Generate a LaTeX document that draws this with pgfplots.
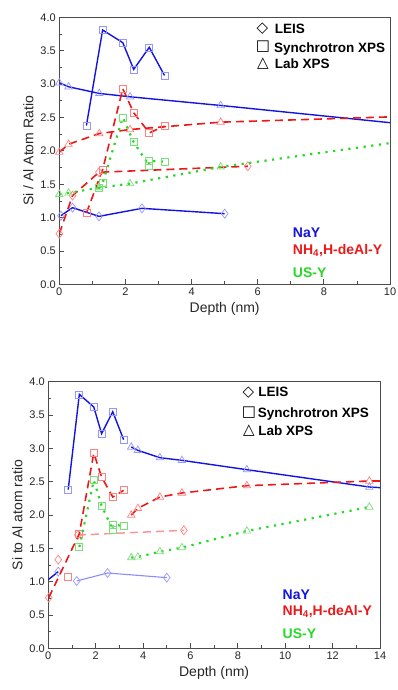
\documentclass[border=0pt]{standalone}
\usepackage{fontspec}
\setmainfont{Liberation Sans}
\newfontfamily\symf{DejaVu Sans}
\usepackage{pgfplots}
\pgfplotsset{compat=1.18}
\definecolor{cB}{RGB}{20,20,225}
\definecolor{cBm}{RGB}{150,150,255}
\definecolor{cBf}{RGB}{140,140,250}
\definecolor{cR}{RGB}{235,25,25}
\definecolor{cRm}{RGB}{255,130,130}
\definecolor{cRf}{RGB}{250,150,150}
\definecolor{cG}{RGB}{40,215,40}
\definecolor{cGm}{RGB}{120,225,120}
\pgfplotsset{
  base/.style={
    scale only axis, anchor=south west,
    ymin=0, ymax=4, ytick={0,0.5,1,1.5,2,2.5,3,3.5,4}, minor y tick num=1,
    minor x tick num=1,
    tick align=inside, xtick pos=left, ytick pos=left,
    major tick length=5pt, minor tick length=3pt,
    axis line style={black!70, line width=1pt},
    every tick/.style={black!70, line width=0.8pt},
    ticklabel style={font=\fontsize{11}{13}\selectfont, text=black!85},
    yticklabel style={/pgf/number format/fixed, /pgf/number format/fixed zerofill, /pgf/number format/precision=1},
    /pgf/number format/assume math mode=true,
    label style={font=\fontsize{14}{16}\selectfont, text=black!85},
    xlabel={Depth (nm)},
    clip mode=individual,
  },
  bl/.style={color=cB, solid, line width=1.4pt, mark options={draw=cBm, fill=white, solid, line width=0.7pt}},
  blf/.style={color=cBf, solid, line width=1.1pt, mark options={draw=cBm, fill=white, solid, line width=0.7pt}},
  rl/.style={color=cR, line width=1.6pt, dash pattern=on 8pt off 5pt, mark options={draw=cRm, fill=white, solid, line width=0.7pt}},
  rlf/.style={color=cRf, line width=1.5pt, dash pattern=on 8pt off 5pt, mark options={draw=cRm, fill=white, solid, line width=0.7pt}},
  gl/.style={color=cG, line width=2.2pt, dash pattern=on 2.2pt off 5.5pt, mark options={draw=cGm, fill=white, solid, line width=0.7pt}},
  mS/.style={mark=square, mark size=3.5pt},
  mD/.style={mark=diamond, mark size=4.5pt},
  mT/.style={mark=triangle, mark size=4.3pt},
}
\tikzset{lt/.style={anchor=base west, inner sep=0pt, font=\bfseries\fontsize{13.5}{16}\selectfont, text=black},
         ls/.style={anchor=center, inner sep=0pt, font=\symf\fontsize{15}{17}\selectfont, text=black},
         sl/.style={anchor=west, inner sep=0pt, font=\bfseries\fontsize{14}{16}\selectfont}}
\begin{document}
\begin{tikzpicture}
\useasboundingbox (0pt,0pt) rectangle (398pt,690pt);
% ---------------- top
\begin{axis}[base, at={(59.3pt,405.5pt)}, width=330.7pt, height=267.2pt,
  xmin=0, xmax=10, xtick={0,2,4,6,8,10},
  ylabel={Si / Al Atom Ratio}]
% NaY
\addplot[bl, mT, mark indices={1,2,3,4,5}] coordinates {(0,3.02)(0.28,2.96)(1.21,2.86)(2.14,2.81)(4.88,2.68)(10.05,2.42)};
\addplot[bl, mS] coordinates {(0.82,2.38)(1.31,3.81)(1.92,3.62)(2.25,3.22)(2.72,3.55)(3.18,3.13)};
\addplot[bl, mD] coordinates {(0.05,1.03)(0.4,1.15)(1.2,1.02)(2.5,1.14)(5.0,1.06)};
% NH4
\addplot[rl, mT, mark indices={1,2,3,4,5}] coordinates {(0,1.98)(0.28,2.10)(1.21,2.26)(2.14,2.32)(4.88,2.43)(10.05,2.51)};
\addplot[rl, mS] coordinates {(0.82,1.07)(1.31,1.72)(1.92,2.93)(2.25,2.57)(2.72,2.27)(3.18,2.37)};
\addplot[rl, mD] coordinates {(0,0.76)(0.4,1.33)(1.2,1.68)(5.7,1.77)};
% US-Y
\addplot[gl, mT, mark indices={1,2,3,4,5}] coordinates {(0,1.35)(0.28,1.37)(1.21,1.45)(2.14,1.51)(4.88,1.76)(10.05,2.12)};
\addplot[gl, mS] coordinates {(1.2,1.44)(1.31,1.52)(1.92,2.50)(2.25,2.13)(2.72,1.78)(2.72,1.85)(3.18,1.84)};
% legend
\node[ls] at (rel axis cs:0.614,0.957) {◇};
\node[ls] at (rel axis cs:0.616,0.889) {□};
\node[ls] at (rel axis cs:0.616,0.825) {△};
\node[lt] at (rel axis cs:0.651,0.940) {LEIS};
\node[lt] at (rel axis cs:0.649,0.869) {Synchrotron XPS};
\node[lt] at (rel axis cs:0.651,0.807) {Lab XPS};
\node[sl, text=cB] at (rel axis cs:0.706,0.194) {NaY};
\node[sl, text=cR] at (rel axis cs:0.706,0.126) {NH\textsubscript{4},H-deAl-Y};
\node[sl, text=cG] at (rel axis cs:0.706,0.044) {US-Y};
\end{axis}
% ---------------- bottom
\begin{axis}[base, at={(48.3pt,41.7pt)}, width=331.7pt, height=266.6pt,
  xmin=0, xmax=14, xtick={0,2,4,6,8,10,12,14},
  ylabel={Si to Al atom ratio}]
% NaY
\addplot[bl, mT, mark indices={1,2,3,4,5,6}] coordinates {(3.5,3.02)(3.78,2.97)(4.71,2.86)(5.64,2.82)(8.38,2.68)(13.55,2.42)(14.5,2.40)};
\addplot[bl, mS] coordinates {(0.84,2.38)(1.31,3.81)(1.92,3.62)(2.25,3.22)(2.72,3.55)(3.18,3.13)};
\addplot[blf, mD] coordinates {(1.2,1.01)(2.5,1.13)(5.0,1.06)};
\addplot[bl, mD, mark indices={2}] coordinates {(0,1.03)(0.42,1.15)};
% NH4
\addplot[rl, mT, mark indices={1,2,3,4,5,6}] coordinates {(3.5,2.0)(3.78,2.10)(4.71,2.27)(5.64,2.33)(8.38,2.44)(13.55,2.51)(14.5,2.51)};
\addplot[rlf, mD] coordinates {(1.25,1.70)(5.72,1.77)};
\addplot[rlf, mD, only marks] coordinates {(0.02,0.76)(0.42,1.33)};
\addplot[rlf, mS, only marks] coordinates {(0.84,1.07)};
\addplot[rl, mS, mark indices={2,3,4,5,6}] coordinates {(0.02,0.76)(1.31,1.72)(1.92,2.93)(2.25,2.57)(2.72,2.27)(3.18,2.37)};
% US-Y
\addplot[gl, mT] coordinates {(3.5,1.36)(3.78,1.37)(4.71,1.45)(5.64,1.51)(8.38,1.76)(13.55,2.12)};
\addplot[gl, mS] coordinates {(1.31,1.52)(1.92,2.52)(2.25,2.14)(2.72,1.78)(2.72,1.85)(3.18,1.84)};
% legend
\node[ls] at (rel axis cs:0.603,0.959) {◇};
\node[ls] at (rel axis cs:0.605,0.884) {□};
\node[ls] at (rel axis cs:0.605,0.818) {△};
\node[lt] at (rel axis cs:0.633,0.944) {LEIS};
\node[lt] at (rel axis cs:0.631,0.866) {Synchrotron XPS};
\node[lt] at (rel axis cs:0.633,0.800) {Lab XPS};
\node[sl, text=cB] at (rel axis cs:0.706,0.200) {NaY};
\node[sl, text=cR] at (rel axis cs:0.706,0.137) {NH\textsubscript{4},H-deAl-Y};
\node[sl, text=cG] at (rel axis cs:0.706,0.056) {US-Y};
\end{axis}
\end{tikzpicture}
\end{document}
